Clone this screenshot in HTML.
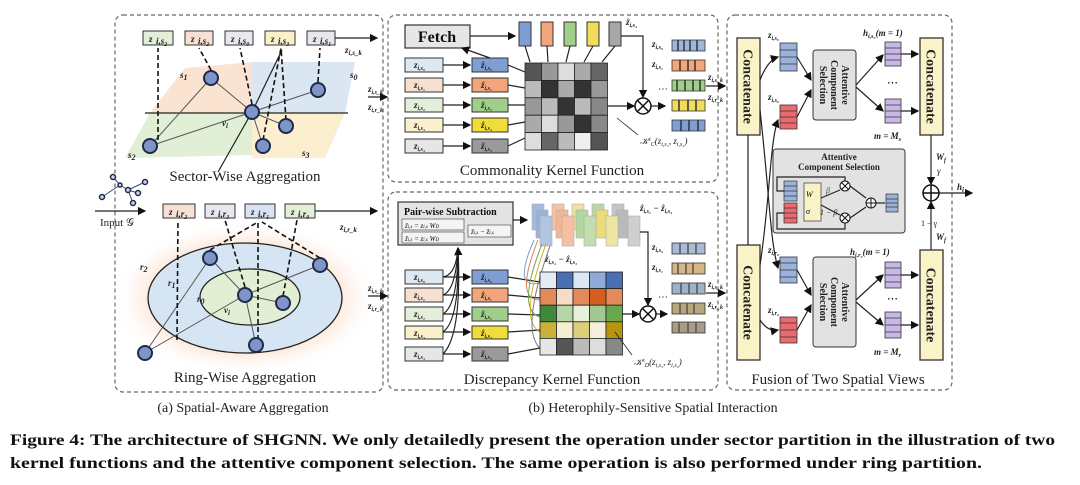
<!DOCTYPE html>
<html><head><meta charset="utf-8"><style>
html,body{margin:0;padding:0;background:#fff;width:1080px;height:485px;overflow:hidden}
svg{display:block}
text{font-family:"Liberation Serif",serif}
</style></head><body>
<svg width="1080" height="485" viewBox="0 0 1080 485" xmlns="http://www.w3.org/2000/svg">
<defs>
<marker id="ar" markerWidth="7" markerHeight="7" refX="6" refY="3.5" orient="auto"><path d="M0,0 L7,3.5 L0,7 z" fill="#111"/></marker>
<radialGradient id="glow" cx="50%" cy="50%" r="50%"><stop offset="0" stop-color="#fbd9c0"/><stop offset="0.7" stop-color="#fde8da"/><stop offset="1" stop-color="#fff" stop-opacity="0"/></radialGradient>
</defs>
<style>
.dash{fill:none;stroke:#666;stroke-width:1.2;stroke-dasharray:4,3}
.ln{stroke:#222;stroke-width:1.2;fill:none}
.dl{stroke:#111;stroke-width:1.6;stroke-dasharray:5,3;fill:none}
.nd{fill:#7f95c8;stroke:#1f2a4a;stroke-width:2}
.bx{stroke:#333;stroke-width:1}
.t{font-size:9px;font-style:italic;font-weight:bold;fill:#222}
.lab{font-size:15px;fill:#222}
.cc{fill:#fbf3c8;stroke:#333;stroke-width:1.3}
</style>

<rect x="115" y="15" width="268" height="377" rx="8" class="dash"/>
<rect x="388" y="15" width="330" height="167" rx="8" class="dash"/>
<rect x="388" y="192" width="330" height="198" rx="8" class="dash"/>
<rect x="727" y="15" width="225" height="375" rx="8" class="dash"/>

<polygon points="150,113 185,68 252,62 252,113" fill="#fbe3d2"/>
<polygon points="252,62 355,62 345,113 252,113" fill="#dbe6f3"/>
<polygon points="150,113 252,113 252,155 125,158" fill="#e1efd6"/>
<polygon points="252,113 345,113 325,158 252,158" fill="#fbefd0"/>
<line x1="145" y1="113" x2="348" y2="113" class="ln"/>
<line x1="252" y1="112" x2="218" y2="172" class="ln"/>
<line x1="252" y1="112" x2="282" y2="50" class="ln"/>
<g stroke="#555" stroke-width="1" fill="none">
<line x1="252" y1="112" x2="211" y2="78"/><line x1="252" y1="112" x2="318" y2="90"/><line x1="252" y1="112" x2="286" y2="126"/><line x1="252" y1="112" x2="263" y2="146"/><line x1="150" y1="146" x2="252" y2="112"/><line x1="150" y1="146" x2="211" y2="78"/>
</g>
<g class="dl">
<line x1="158" y1="140" x2="158" y2="48"/><line x1="211" y1="70" x2="199" y2="48"/><line x1="252" y1="104" x2="240" y2="48"/><line x1="263" y1="140" x2="281" y2="48"/><line x1="286" y1="120" x2="281" y2="48"/><line x1="318" y1="82" x2="320" y2="48"/>
</g>
<rect x="143" y="31" width="30" height="14" fill="#e3efd8" class="bx"/><text x="149" y="42" class="t">z</text><text x="156" y="44" font-size="6" class="t">i,s₂</text>
<rect x="185" y="31" width="28" height="14" fill="#f7e1d4" class="bx"/><text x="191" y="42" class="t">z</text><text x="198" y="44" font-size="6" class="t">i,s₂</text>
<rect x="225" y="31" width="28" height="14" fill="#e8e8ee" class="bx"/><text x="231" y="42" class="t">z</text><text x="238" y="44" font-size="6" class="t">i,s₀</text>
<rect x="265" y="31" width="30" height="14" fill="#fbf0c8" class="bx"/><text x="271" y="42" class="t">z</text><text x="278" y="44" font-size="6" class="t">i,s₃</text>
<rect x="307" y="31" width="28" height="14" fill="#e7e7ef" class="bx"/><text x="313" y="42" class="t">z</text><text x="320" y="44" font-size="6" class="t">i,s₁</text>
<line x1="335" y1="38" x2="377" y2="38" class="ln" marker-end="url(#ar)"/>
<text x="345" y="53" class="t" font-size="11">z<tspan font-size="7" dy="2">i,s_k</tspan></text>
<circle cx="211" cy="78" r="7" class="nd"/><circle cx="318" cy="90" r="7" class="nd"/><circle cx="252" cy="112" r="7" class="nd"/><circle cx="286" cy="126" r="7" class="nd"/><circle cx="263" cy="146" r="7" class="nd"/><circle cx="150" cy="146" r="7" class="nd"/>
<text x="180" y="78" class="t" font-size="12">s<tspan font-size="8" dy="2">1</tspan></text>
<text x="350" y="78" class="t" font-size="12">s<tspan font-size="8" dy="2">0</tspan></text>
<text x="128" y="158" class="t" font-size="12">s<tspan font-size="8" dy="2">2</tspan></text>
<text x="302" y="156" class="t" font-size="12">s<tspan font-size="8" dy="2">3</tspan></text>
<text x="222" y="126" class="t" font-size="11">v<tspan font-size="7" dy="2">i</tspan></text>
<text x="245" y="181" class="lab" text-anchor="middle">Sector-Wise Aggregation</text>

<g stroke="#3a4a7a" stroke-width="1" fill="none">
<line x1="102" y1="197" x2="120" y2="185"/><line x1="120" y1="185" x2="128" y2="190"/><line x1="128" y1="190" x2="145" y2="182"/><line x1="128" y1="190" x2="133" y2="203"/><line x1="128" y1="190" x2="138" y2="193"/><line x1="113" y1="177" x2="120" y2="185"/>
</g>
<g fill="#cdd6f0" stroke="#1f2a4a" stroke-width="1.5"><circle cx="102" cy="197" r="2.5"/><circle cx="113" cy="177" r="2.5"/><circle cx="128" cy="190" r="2.5"/><circle cx="145" cy="182" r="2.5"/><circle cx="133" cy="203" r="2.5"/><circle cx="138" cy="193" r="2.5"/><circle cx="120" cy="185" r="2"/></g>
<line x1="95" y1="211" x2="145" y2="211" class="ln" marker-end="url(#ar)"/>
<text x="100" y="226" font-size="11" fill="#222">Input 𝒢</text>

<ellipse cx="245" cy="298" rx="135" ry="78" fill="url(#glow)"/>
<ellipse cx="245" cy="298" rx="97" ry="55" fill="#d6e5f4" stroke="#222" stroke-width="1.3"/>
<ellipse cx="250" cy="297" rx="50" ry="28" fill="#e2efd4" stroke="#222" stroke-width="1.3"/>
<g stroke="#555" stroke-width="1" fill="none">
<line x1="245" y1="295" x2="210" y2="258"/><line x1="245" y1="295" x2="320" y2="265"/><line x1="245" y1="295" x2="283" y2="303"/><line x1="245" y1="295" x2="256" y2="345"/><line x1="145" y1="353" x2="245" y2="295"/><line x1="145" y1="353" x2="210" y2="258"/>
</g>
<g class="dl">
<line x1="177" y1="340" x2="178" y2="220"/><line x1="245" y1="287" x2="225" y2="220"/><line x1="258" y1="340" x2="258" y2="222"/><line x1="283" y1="296" x2="297" y2="220"/><line x1="210" y1="250" x2="258" y2="222"/><line x1="320" y1="258" x2="262" y2="222"/>
</g>
<rect x="163" y="204" width="32" height="14" fill="#f7e1d4" class="bx"/><text x="169" y="215" class="t">z</text><text x="176" y="217" font-size="6" class="t">i,r₂</text>
<rect x="205" y="204" width="30" height="14" fill="#e8e8ee" class="bx"/><text x="211" y="215" class="t">z</text><text x="218" y="217" font-size="6" class="t">i,r₃</text>
<rect x="245" y="204" width="30" height="14" fill="#d9e3f1" class="bx"/><text x="251" y="215" class="t">z</text><text x="258" y="217" font-size="6" class="t">i,r₁</text>
<rect x="285" y="204" width="30" height="14" fill="#e3efd8" class="bx"/><text x="291" y="215" class="t">z</text><text x="298" y="217" font-size="6" class="t">i,r₀</text>
<line x1="315" y1="211" x2="377" y2="211" class="ln" marker-end="url(#ar)"/>
<text x="340" y="230" class="t" font-size="11">z<tspan font-size="7" dy="2">i,r_k</tspan></text>
<circle cx="210" cy="258" r="7" class="nd"/><circle cx="320" cy="265" r="7" class="nd"/><circle cx="245" cy="295" r="7" class="nd"/><circle cx="283" cy="303" r="7" class="nd"/><circle cx="145" cy="353" r="7" class="nd"/><circle cx="256" cy="345" r="7" class="nd"/>
<text x="140" y="270" class="t" font-size="12">r<tspan font-size="8" dy="2">2</tspan></text>
<text x="168" y="286" class="t" font-size="12">r<tspan font-size="8" dy="2">1</tspan></text>
<text x="197" y="302" class="t" font-size="12">r<tspan font-size="8" dy="2">0</tspan></text>
<text x="224" y="313" class="t" font-size="11">v<tspan font-size="7" dy="2">i</tspan></text>
<text x="245" y="382" class="lab" text-anchor="middle">Ring-Wise Aggregation</text>

<line x1="368" y1="97" x2="387" y2="97" class="ln" marker-end="url(#ar)"/>
<text x="368" y="92" class="t" font-size="10">z<tspan font-size="6" dy="2">i,s_k</tspan></text>
<text x="368" y="110" class="t" font-size="10">z<tspan font-size="6" dy="2">i,r_k</tspan></text>
<line x1="368" y1="296" x2="387" y2="296" class="ln" marker-end="url(#ar)"/>
<text x="368" y="291" class="t" font-size="10">z<tspan font-size="6" dy="2">i,s_k</tspan></text>
<text x="368" y="309" class="t" font-size="10">z<tspan font-size="6" dy="2">i,r_k</tspan></text>

<rect x="405" y="25" width="65" height="23" fill="#e6e6e6" stroke="#333" stroke-width="1.2"/>
<text x="437" y="42" font-size="16" font-weight="bold" text-anchor="middle" fill="#111">Fetch</text>
<line x1="470" y1="36" x2="515" y2="36" class="ln" marker-end="url(#ar)"/>
<rect x="519" y="22" width="12" height="24" fill="#7f9fd4" class="bx"/><rect x="541" y="22" width="12" height="24" fill="#f3a57c" class="bx"/><rect x="564" y="22" width="12" height="24" fill="#9fcf8a" class="bx"/><rect x="587" y="22" width="12" height="24" fill="#f1dd5a" class="bx"/><rect x="609" y="22" width="12" height="24" fill="#a8a8a8" class="bx"/>
<text x="626" y="25" class="t" font-size="9">ẑ<tspan font-size="6" dy="2">i,s₄</tspan></text>
<polyline points="621,36 643,36 643,97" class="ln" marker-end="url(#ar)"/>
<g font-size="8" class="t">
<rect x="405" y="58" width="38" height="14" fill="#dde8f3" class="bx"/><text x="414" y="68">z<tspan font-size="6" dy="2">i,s₀</tspan></text>
<rect x="405" y="78" width="38" height="14" fill="#f6e0d2" class="bx"/><text x="414" y="88">z<tspan font-size="6" dy="2">i,s₁</tspan></text>
<rect x="405" y="98" width="38" height="14" fill="#e3efd8" class="bx"/><text x="414" y="108">z<tspan font-size="6" dy="2">i,s₂</tspan></text>
<rect x="405" y="118" width="38" height="14" fill="#faf0cc" class="bx"/><text x="414" y="128">z<tspan font-size="6" dy="2">i,s₃</tspan></text>
<rect x="405" y="139" width="38" height="14" fill="#e6e6e6" class="bx"/><text x="414" y="149">z<tspan font-size="6" dy="2">i,s₄</tspan></text>
<rect x="472" y="58" width="36" height="14" fill="#7f9fd4" class="bx"/><text x="481" y="68">ẑ<tspan font-size="6" dy="2">i,s₀</tspan></text>
<rect x="472" y="78" width="36" height="14" fill="#f3a57c" class="bx"/><text x="481" y="88">ẑ<tspan font-size="6" dy="2">i,s₁</tspan></text>
<rect x="472" y="98" width="36" height="14" fill="#9fcf8a" class="bx"/><text x="481" y="108">ẑ<tspan font-size="6" dy="2">i,s₂</tspan></text>
<rect x="472" y="118" width="36" height="14" fill="#f1dd3a" class="bx"/><text x="481" y="128">ẑ<tspan font-size="6" dy="2">i,s₃</tspan></text>
<rect x="472" y="139" width="36" height="14" fill="#9a9a9a" class="bx"/><text x="481" y="149">ẑ<tspan font-size="6" dy="2">i,s₄</tspan></text>
</g>
<g class="ln"><line x1="443" y1="65" x2="470" y2="65" marker-end="url(#ar)"/><line x1="443" y1="85" x2="470" y2="85" marker-end="url(#ar)"/><line x1="443" y1="105" x2="470" y2="105" marker-end="url(#ar)"/><line x1="443" y1="125" x2="470" y2="125" marker-end="url(#ar)"/><line x1="443" y1="146" x2="470" y2="146" marker-end="url(#ar)"/>
<line x1="490" y1="58" x2="462" y2="48" marker-end="url(#ar)"/>
<line x1="508" y1="65" x2="525" y2="72"/><line x1="508" y1="85" x2="525" y2="88"/><line x1="508" y1="105" x2="525" y2="105"/><line x1="508" y1="125" x2="525" y2="122"/><line x1="508" y1="146" x2="525" y2="138"/>
<line x1="525" y1="46" x2="530" y2="62"/><line x1="547" y1="46" x2="548" y2="62"/><line x1="570" y1="46" x2="566" y2="62"/><line x1="593" y1="46" x2="584" y2="62"/><line x1="615" y1="46" x2="602" y2="62"/>
</g>
<g stroke="#222" stroke-width="0.8">
<rect x="525" y="63" width="16.5" height="17.4" fill="#555"/><rect x="541.5" y="63" width="16.5" height="17.4" fill="#999"/><rect x="558" y="63" width="16.5" height="17.4" fill="#ddd"/><rect x="574.5" y="63" width="16.5" height="17.4" fill="#aaa"/><rect x="591" y="63" width="16.5" height="17.4" fill="#666"/>
<rect x="525" y="80.4" width="16.5" height="17.4" fill="#bbb"/><rect x="541.5" y="80.4" width="16.5" height="17.4" fill="#333"/><rect x="558" y="80.4" width="16.5" height="17.4" fill="#aaa"/><rect x="574.5" y="80.4" width="16.5" height="17.4" fill="#333"/><rect x="591" y="80.4" width="16.5" height="17.4" fill="#999"/>
<rect x="525" y="97.8" width="16.5" height="17.4" fill="#999"/><rect x="541.5" y="97.8" width="16.5" height="17.4" fill="#bbb"/><rect x="558" y="97.8" width="16.5" height="17.4" fill="#333"/><rect x="574.5" y="97.8" width="16.5" height="17.4" fill="#bbb"/><rect x="591" y="97.8" width="16.5" height="17.4" fill="#888"/>
<rect x="525" y="115.2" width="16.5" height="17.4" fill="#aaa"/><rect x="541.5" y="115.2" width="16.5" height="17.4" fill="#ddd"/><rect x="558" y="115.2" width="16.5" height="17.4" fill="#999"/><rect x="574.5" y="115.2" width="16.5" height="17.4" fill="#333"/><rect x="591" y="115.2" width="16.5" height="17.4" fill="#888"/>
<rect x="525" y="132.6" width="16.5" height="17.4" fill="#ddd"/><rect x="541.5" y="132.6" width="16.5" height="17.4" fill="#666"/><rect x="558" y="132.6" width="16.5" height="17.4" fill="#bbb"/><rect x="574.5" y="132.6" width="16.5" height="17.4" fill="#eee"/><rect x="591" y="132.6" width="16.5" height="17.4" fill="#555"/>
</g>
<line x1="607" y1="106" x2="634" y2="106" class="ln" marker-end="url(#ar)"/>
<circle cx="643" cy="106" r="8" fill="#fff" stroke="#111" stroke-width="1.5"/><path d="M637.5,100.5 L648.5,111.5 M648.5,100.5 L637.5,111.5" stroke="#111" stroke-width="1.5"/>
<line x1="651" y1="106" x2="665" y2="106" class="ln" marker-end="url(#ar)"/>
<text x="658" y="92" font-size="10">⋯</text>
<text x="640" y="144" font-size="9" font-style="italic" fill="#222">𝒦<tspan font-size="6" dy="-3">s</tspan><tspan font-size="6" dy="5">C</tspan><tspan dy="-2">(z</tspan><tspan font-size="6" dy="2">i,s₃</tspan><tspan dy="-2">, z</tspan><tspan font-size="6" dy="2">i,s₄</tspan><tspan dy="-2">)</tspan></text>
<line x1="638" y1="135" x2="617" y2="118" stroke="#222" stroke-width="0.8"/>
<g stroke="#333" stroke-width="0.8">
<rect x="672" y="40" width="33" height="11" fill="#9fb6dc"/><rect x="672" y="60" width="33" height="11" fill="#f3a57c"/><rect x="672" y="80" width="33" height="11" fill="#9fcf8a"/><rect x="672" y="100" width="33" height="11" fill="#f1dd5a"/><rect x="672" y="120" width="33" height="11" fill="#7f9fd4"/>
</g>
<g stroke="#333" stroke-width="1.5">
<path d="M678,40v11M684,40v11M690,40v11M697,40v11M680,60v11M688,60v11M695,60v11M677,80v11M685,80v11M693,80v11M700,80v11M679,100v11M688,100v11M696,100v11M681,120v11M689,120v11M698,120v11"/>
</g>
<text x="652" y="47" class="t" font-size="9">z<tspan font-size="6" dy="2">i,s₀</tspan></text>
<text x="652" y="67" class="t" font-size="9">z<tspan font-size="6" dy="2">i,s₁</tspan></text>
<text x="552" y="175" class="lab" text-anchor="middle">Commonality Kernel Function</text>
<line x1="706" y1="86" x2="725" y2="86" class="ln" marker-end="url(#ar)"/>
<text x="708" y="80" class="t" font-size="10">z<tspan font-size="6" dy="2">i,s_k</tspan></text>
<text x="708" y="100" class="t" font-size="10">z<tspan font-size="6" dy="2">i,r_k</tspan></text>

<rect x="398" y="202" width="115" height="43" fill="#e4e4e4" stroke="#333" stroke-width="1.2"/>
<text x="404" y="215" font-size="10" font-weight="bold" fill="#111">Pair-wise Subtraction</text>
<rect x="402" y="219" width="62" height="11" fill="#f4f4f4" stroke="#555" stroke-width="0.7"/><text x="405" y="228" font-size="7" font-style="italic">ẑ<tspan font-size="5">i,s</tspan> = z<tspan font-size="5">i,s</tspan> W<tspan font-size="5">D</tspan></text>
<rect x="402" y="232" width="62" height="11" fill="#f4f4f4" stroke="#555" stroke-width="0.7"/><text x="405" y="241" font-size="7" font-style="italic">ẑ<tspan font-size="5">i,s</tspan> = z<tspan font-size="5">i,s</tspan> W<tspan font-size="5">D</tspan></text>
<rect x="468" y="225" width="43" height="12" fill="#f4f4f4" stroke="#555" stroke-width="0.7"/><text x="471" y="234" font-size="7" font-style="italic">ẑ<tspan font-size="5">i,s</tspan> − ẑ<tspan font-size="5">i,s</tspan></text>
<line x1="513" y1="220" x2="527" y2="220" class="ln" marker-end="url(#ar)"/>
<g stroke="#999" stroke-width="0.6" opacity="0.8">
<rect x="532" y="204" width="12" height="26" fill="#8faad9"/><rect x="552" y="204" width="12" height="26" fill="#f2b590"/><rect x="572" y="204" width="12" height="26" fill="#f1d98a"/><rect x="592" y="204" width="12" height="26" fill="#a9cf92"/><rect x="612" y="204" width="12" height="26" fill="#b9b9b9"/>
<rect x="536" y="210" width="12" height="28" fill="#7f9fd4"/><rect x="556" y="210" width="12" height="28" fill="#f0a57c"/><rect x="576" y="210" width="12" height="28" fill="#9fcf8a"/><rect x="596" y="210" width="12" height="28" fill="#e9d35a"/><rect x="616" y="210" width="12" height="28" fill="#aaa"/>
<rect x="540" y="216" width="12" height="30" fill="#9fb6dc"/><rect x="562" y="216" width="12" height="30" fill="#f4b08a"/><rect x="584" y="216" width="12" height="30" fill="#b3d59b"/><rect x="606" y="216" width="12" height="30" fill="#eadf8a"/><rect x="628" y="216" width="12" height="30" fill="#c4c4c4"/>
</g>
<text x="640" y="211" class="t" font-size="9">ẑ<tspan font-size="6" dy="2">i,s₁</tspan><tspan dy="-2"> − ẑ</tspan><tspan font-size="6" dy="2">i,s₄</tspan></text>
<text x="545" y="262" class="t" font-size="9">ẑ<tspan font-size="6" dy="2">i,s₄</tspan><tspan dy="-2"> − ẑ</tspan><tspan font-size="6" dy="2">i,s₃</tspan></text>
<polyline points="640,232 648,232 648,305" class="ln" marker-end="url(#ar)"/>
<g font-size="8" class="t">
<rect x="405" y="270" width="38" height="14" fill="#dde8f3" class="bx"/><text x="414" y="280">z<tspan font-size="6" dy="2">i,s₀</tspan></text>
<rect x="405" y="288" width="38" height="14" fill="#f6e0d2" class="bx"/><text x="414" y="298">z<tspan font-size="6" dy="2">i,s₁</tspan></text>
<rect x="405" y="307" width="38" height="14" fill="#e3efd8" class="bx"/><text x="414" y="317">z<tspan font-size="6" dy="2">i,s₂</tspan></text>
<rect x="405" y="326" width="38" height="13" fill="#faf0cc" class="bx"/><text x="414" y="336">z<tspan font-size="6" dy="2">i,s₃</tspan></text>
<rect x="405" y="347" width="38" height="14" fill="#e6e6e6" class="bx"/><text x="414" y="357">z<tspan font-size="6" dy="2">i,s₄</tspan></text>
<rect x="472" y="270" width="36" height="14" fill="#7f9fd4" class="bx"/><text x="481" y="280">ẑ<tspan font-size="6" dy="2">i,s₀</tspan></text>
<rect x="472" y="288" width="36" height="14" fill="#f3a57c" class="bx"/><text x="481" y="298">ẑ<tspan font-size="6" dy="2">i,s₁</tspan></text>
<rect x="472" y="307" width="36" height="14" fill="#9fcf8a" class="bx"/><text x="481" y="317">ẑ<tspan font-size="6" dy="2">i,s₂</tspan></text>
<rect x="472" y="326" width="36" height="13" fill="#f1dd3a" class="bx"/><text x="481" y="336">ẑ<tspan font-size="6" dy="2">i,s₃</tspan></text>
<rect x="472" y="347" width="36" height="14" fill="#9a9a9a" class="bx"/><text x="481" y="357">ẑ<tspan font-size="6" dy="2">i,s₄</tspan></text>
</g>
<g class="ln"><line x1="443" y1="277" x2="470" y2="277" marker-end="url(#ar)"/><line x1="443" y1="295" x2="470" y2="295" marker-end="url(#ar)"/><line x1="443" y1="314" x2="470" y2="314" marker-end="url(#ar)"/><line x1="443" y1="332" x2="470" y2="332" marker-end="url(#ar)"/><line x1="443" y1="354" x2="470" y2="354" marker-end="url(#ar)"/>
<path d="M443,277 Q456,275 458,248"/><path d="M443,295 Q456,290 458,248"/><path d="M443,314 Q458,305 458,248"/><path d="M443,332 Q460,320 458,248"/><path d="M443,354 Q462,335 458,248" marker-end="url(#ar)"/>
<line x1="508" y1="277" x2="540" y2="282"/><line x1="508" y1="295" x2="540" y2="298"/><line x1="508" y1="314" x2="540" y2="315"/><line x1="508" y1="332" x2="540" y2="330"/><line x1="508" y1="354" x2="540" y2="348"/>
</g>
<g fill="none" stroke-width="1">
<path d="M534,240 Q512,290 540,283" stroke="#7f9fd4"/><path d="M538,240 Q514,300 540,300" stroke="#d9805a"/><path d="M542,244 Q516,310 540,317" stroke="#6aa84f"/><path d="M546,244 Q518,320 540,332" stroke="#c9b21a"/><path d="M550,246 Q520,330 540,348" stroke="#777"/>
</g>
<g stroke="#222" stroke-width="0.8">
<rect x="540" y="272" width="16.5" height="16.6" fill="#e5ebf5"/><rect x="556.5" y="272" width="16.5" height="16.6" fill="#4a6fb5"/><rect x="573" y="272" width="16.5" height="16.6" fill="#dce6f4"/><rect x="589.5" y="272" width="16.5" height="16.6" fill="#8faad9"/><rect x="606" y="272" width="16.5" height="16.6" fill="#4a6fb5"/>
<rect x="540" y="288.6" width="16.5" height="16.6" fill="#e28a5a"/><rect x="556.5" y="288.6" width="16.5" height="16.6" fill="#f6dcc8"/><rect x="573" y="288.6" width="16.5" height="16.6" fill="#e28a5a"/><rect x="589.5" y="288.6" width="16.5" height="16.6" fill="#d45d20"/><rect x="606" y="288.6" width="16.5" height="16.6" fill="#e28a5a"/>
<rect x="540" y="305.2" width="16.5" height="16.6" fill="#3f8a3a"/><rect x="556.5" y="305.2" width="16.5" height="16.6" fill="#b7d6a8"/><rect x="573" y="305.2" width="16.5" height="16.6" fill="#e6f0dc"/><rect x="589.5" y="305.2" width="16.5" height="16.6" fill="#a4c893"/><rect x="606" y="305.2" width="16.5" height="16.6" fill="#6aa84f"/>
<rect x="540" y="321.8" width="16.5" height="16.6" fill="#cbb03a"/><rect x="556.5" y="321.8" width="16.5" height="16.6" fill="#f4efd2"/><rect x="573" y="321.8" width="16.5" height="16.6" fill="#dccf7a"/><rect x="589.5" y="321.8" width="16.5" height="16.6" fill="#f3efdc"/><rect x="606" y="321.8" width="16.5" height="16.6" fill="#b8950c"/>
<rect x="540" y="338.4" width="16.5" height="16.6" fill="#e6e6e6"/><rect x="556.5" y="338.4" width="16.5" height="16.6" fill="#555"/><rect x="573" y="338.4" width="16.5" height="16.6" fill="#bbb"/><rect x="589.5" y="338.4" width="16.5" height="16.6" fill="#ddd"/><rect x="606" y="338.4" width="16.5" height="16.6" fill="#888"/>
</g>
<line x1="622" y1="314" x2="639" y2="314" class="ln" marker-end="url(#ar)"/>
<circle cx="648" cy="314" r="8" fill="#fff" stroke="#111" stroke-width="1.5"/><path d="M642.5,308.5 L653.5,319.5 M653.5,308.5 L642.5,319.5" stroke="#111" stroke-width="1.5"/>
<line x1="656" y1="314" x2="667" y2="314" class="ln" marker-end="url(#ar)"/>
<text x="658" y="300" font-size="10">⋯</text>
<text x="634" y="365" font-size="9" font-style="italic" fill="#222">𝒦<tspan font-size="6" dy="-3">s</tspan><tspan font-size="6" dy="5">D</tspan><tspan dy="-2">(z</tspan><tspan font-size="6" dy="2">i,s₃</tspan><tspan dy="-2">, z</tspan><tspan font-size="6" dy="2">i,s₄</tspan><tspan dy="-2">)</tspan></text>
<line x1="632" y1="355" x2="615" y2="332" stroke="#222" stroke-width="0.8"/>
<g stroke="#333" stroke-width="0.8">
<rect x="672" y="243" width="33" height="11" fill="#aab9d6"/><rect x="672" y="263" width="33" height="11" fill="#d6b586"/><rect x="672" y="283" width="33" height="11" fill="#9fb1c9"/><rect x="672" y="303" width="33" height="11" fill="#b8a77a"/><rect x="672" y="322" width="33" height="11" fill="#a89e88"/>
</g>
<g stroke="#555" stroke-width="1.5">
<path d="M680,243v11M688,243v11M696,243v11M678,263v11M686,263v11M693,263v11M681,283v11M689,283v11M697,283v11M680,303v11M687,303v11M694,303v11M679,322v11M688,322v11M696,322v11"/>
</g>
<text x="652" y="250" class="t" font-size="9">z<tspan font-size="6" dy="2">i,s₀</tspan></text>
<text x="652" y="270" class="t" font-size="9">z<tspan font-size="6" dy="2">i,s₁</tspan></text>
<text x="552" y="384" class="lab" text-anchor="middle">Discrepancy Kernel Function</text>
<line x1="706" y1="293" x2="725" y2="293" class="ln" marker-end="url(#ar)"/>
<text x="708" y="287" class="t" font-size="10">z<tspan font-size="6" dy="2">i,s_k</tspan></text>
<text x="708" y="307" class="t" font-size="10">z<tspan font-size="6" dy="2">i,r_k</tspan></text>

<!-- Panel c -->
<rect x="737" y="38" width="23" height="97" class="cc"/>
<rect x="737" y="245" width="23" height="115" class="cc"/>
<rect x="920" y="38" width="23" height="97" class="cc"/>
<rect x="920" y="250" width="23" height="110" class="cc"/>
<g font-size="14" font-weight="bold" fill="#222" text-anchor="middle">
<text transform="translate(748.5,86.5) rotate(90)" dy="5">Concatenate</text>
<text transform="translate(748.5,302.5) rotate(90)" dy="5">Concatenate</text>
<text transform="translate(931.5,86.5) rotate(90)" dy="5">Concatenate</text>
<text transform="translate(931.5,305) rotate(90)" dy="5">Concatenate</text>
</g>
<g stroke="#333" stroke-width="0.8">
<rect x="780" y="43" width="17" height="28" fill="#9bb3db"/><path d="M780,50h17M780,57h17M780,64h17"/>
<rect x="780" y="105" width="17" height="24" fill="#e96a6f"/><path d="M780,111h17M780,117h17M780,123h17"/>
<rect x="780" y="257" width="17" height="26" fill="#9bb3db"/><path d="M780,263h17M780,270h17M780,277h17"/>
<rect x="780" y="317" width="17" height="26" fill="#e96a6f"/><path d="M780,323h17M780,330h17M780,337h17"/>
<rect x="885" y="42" width="16" height="24" fill="#c8b8e8"/><path d="M885,48h16M885,54h16M885,60h16"/>
<rect x="885" y="99" width="16" height="24" fill="#c8b8e8"/><path d="M885,105h16M885,111h16M885,117h16"/>
<rect x="885" y="262" width="16" height="26" fill="#c8b8e8"/><path d="M885,268h16M885,275h16M885,282h16"/>
<rect x="885" y="312" width="16" height="26" fill="#c8b8e8"/><path d="M885,318h16M885,325h16M885,332h16"/>
</g>
<rect x="813" y="50" width="43" height="70" rx="3" fill="#e2e2e2" stroke="#333"/>
<rect x="813" y="257" width="43" height="90" rx="3" fill="#e2e2e2" stroke="#333"/>
<g font-size="10" font-weight="bold" fill="#222" text-anchor="middle">
<text transform="translate(834,85) rotate(90)"><tspan x="0" dy="-8">Attentive</tspan><tspan x="0" dy="11">Component</tspan><tspan x="0" dy="11">Selection</tspan></text>
<text transform="translate(834,302) rotate(90)"><tspan x="0" dy="-8">Attentive</tspan><tspan x="0" dy="11">Component</tspan><tspan x="0" dy="11">Selection</tspan></text>
</g>
<g class="ln">
<path d="M760,80 Q768,60 778,57" marker-end="url(#ar)"/>
<path d="M797,57 L811,80" marker-end="url(#ar)"/><path d="M797,117 L811,90" marker-end="url(#ar)"/>
<path d="M856,85 L883,55" marker-end="url(#ar)"/><path d="M856,87 L883,111" marker-end="url(#ar)"/>
<line x1="901" y1="54" x2="918" y2="54" marker-end="url(#ar)"/><line x1="901" y1="111" x2="918" y2="111" marker-end="url(#ar)"/>
<path d="M748,135 L748,245"/>
<path d="M760,320 Q768,332 778,330" marker-end="url(#ar)"/>
<path d="M797,270 L811,295" marker-end="url(#ar)"/><path d="M797,330 L811,305" marker-end="url(#ar)"/>
<path d="M856,300 L883,275" marker-end="url(#ar)"/><path d="M856,302 L883,325" marker-end="url(#ar)"/>
<line x1="901" y1="275" x2="918" y2="275" marker-end="url(#ar)"/><line x1="901" y1="325" x2="918" y2="325" marker-end="url(#ar)"/>
<path d="M760,110 C770,200 770,240 778,268" marker-end="url(#ar)"/>
<path d="M760,265 C770,200 770,140 778,120" marker-end="url(#ar)"/>
<line x1="931" y1="135" x2="931" y2="184" marker-end="url(#ar)"/>
<line x1="931" y1="250" x2="931" y2="202" marker-end="url(#ar)"/>
<line x1="939" y1="193" x2="972" y2="193" marker-end="url(#ar)"/>
</g>
<circle cx="931" cy="193" r="8" fill="#fff" stroke="#111" stroke-width="1.5"/><path d="M923,193h16M931,185v16" stroke="#111" stroke-width="1.5"/>
<text x="957" y="190" class="t" font-size="12">h<tspan font-size="7" dy="2">i</tspan></text>
<text x="936" y="160" class="t" font-size="10">W<tspan font-size="6" dy="2">f</tspan></text>
<text x="937" y="174" font-size="9" font-style="italic" fill="#222">γ</text>
<text x="921" y="226" font-size="8" fill="#222">1 − γ</text>
<text x="936" y="240" class="t" font-size="10">W<tspan font-size="6" dy="2">f</tspan></text>
<text x="768" y="38" class="t" font-size="9">z<tspan font-size="6" dy="2">i,s₀</tspan></text>
<text x="768" y="100" class="t" font-size="9">z<tspan font-size="6" dy="2">i,s₀</tspan></text>
<text x="768" y="253" class="t" font-size="9">z<tspan font-size="6" dy="2">i,r₀</tspan></text>
<text x="768" y="313" class="t" font-size="9">z<tspan font-size="6" dy="2">i,r₀</tspan></text>
<text x="863" y="36" class="t" font-size="9">h<tspan font-size="6" dy="2">i,s₀</tspan><tspan dy="-2">(m = 1)</tspan></text>
<text x="850" y="255" class="t" font-size="9">h<tspan font-size="6" dy="2">i,r₀</tspan><tspan dy="-2">(m = 1)</tspan></text>
<text x="887" y="86" font-size="11">⋯</text><text x="887" y="302" font-size="11">⋯</text>
<text x="874" y="139" class="t" font-size="9">m = M<tspan font-size="6" dy="2">s</tspan></text>
<text x="874" y="355" class="t" font-size="9">m = M<tspan font-size="6" dy="2">r</tspan></text>
<rect x="773" y="149" width="132" height="84" rx="3" fill="#e2e2e2" stroke="#333"/>
<text x="839" y="160" font-size="9" font-weight="bold" text-anchor="middle" fill="#222">Attentive</text>
<text x="839" y="170" font-size="9" font-weight="bold" text-anchor="middle" fill="#222">Component Selection</text>
<g stroke="#333" stroke-width="0.7">
<rect x="784" y="181" width="13" height="20" fill="#9bb3db"/><path d="M784,186h13M784,191h13M784,196h13"/>
<rect x="784" y="203" width="13" height="20" fill="#e96a6f"/><path d="M784,208h13M784,213h13M784,218h13"/>
<rect x="804" y="183" width="17" height="38" fill="#fbf3c8" stroke="#333"/>
<rect x="886" y="194" width="12" height="18" fill="#9bb3db"/><path d="M886,199h12M886,203h12M886,207h12"/>
</g>
<text x="806" y="197" font-size="8" font-style="italic">W</text><text x="806" y="214" font-size="8" font-style="italic">σ</text>
<g class="ln" stroke-width="0.9">
<path d="M784,191 H777 V177 H845 V181"/><path d="M784,213 H777 V229 H845 V223"/>
<line x1="821" y1="198" x2="840" y2="190"/><line x1="821" y1="205" x2="840" y2="215"/>
<line x1="850" y1="186" x2="866" y2="198"/><line x1="850" y1="218" x2="866" y2="207"/><line x1="876" y1="203" x2="885" y2="203"/>
</g>
<circle cx="845" cy="186" r="5" fill="#fff" stroke="#111"/><path d="M841.5,182.5l7,7m0-7l-7,7" stroke="#111"/>
<circle cx="845" cy="218" r="5" fill="#fff" stroke="#111"/><path d="M841.5,214.5l7,7m0-7l-7,7" stroke="#111"/>
<circle cx="871" cy="203" r="5" fill="#fff" stroke="#111"/><path d="M866,203h10M871,198v10" stroke="#111"/>
<text x="826" y="193" font-size="8" font-style="italic" fill="#555">β</text>
<text x="820" y="215" font-size="8" font-style="italic" fill="#333">1 − β</text>
<text x="838" y="384" class="lab" text-anchor="middle">Fusion of Two Spatial Views</text>

<text x="243" y="412" font-size="14" text-anchor="middle" fill="#222">(a) Spatial-Aware Aggregation</text>
<text x="653" y="412" font-size="14" text-anchor="middle" fill="#222">(b) Heterophily-Sensitive Spatial Interaction</text>
<text x="10" y="445" font-size="16" font-weight="bold" fill="#111" textLength="1045" lengthAdjust="spacingAndGlyphs">Figure 4: The architecture of SHGNN. We only detailedly present the operation under sector partition in the illustration of two</text>
<text x="10" y="468" font-size="16" font-weight="bold" fill="#111" textLength="972" lengthAdjust="spacingAndGlyphs">kernel functions and the attentive component selection. The same operation is also performed under ring partition.</text>
</svg>
</body></html>
